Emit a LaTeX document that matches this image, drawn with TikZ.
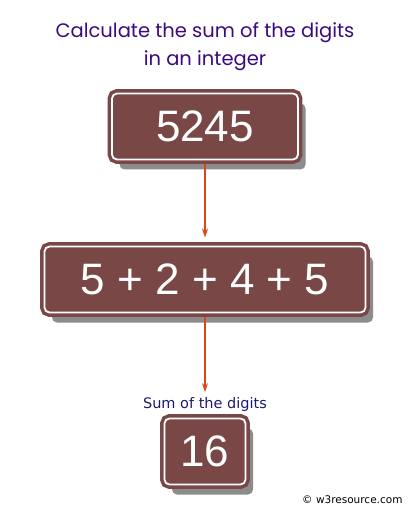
\documentclass[tikz,border=0pt]{standalone}
\usepackage{fontspec}
\setmainfont{Liberation Sans}
\newfontfamily\titlefont{Poppins}
\newfontfamily\labelfont{DejaVu Sans}
\usepackage{xcolor}
\usepackage{tikz}
\usetikzlibrary{positioning,shadows,arrows.meta}

\definecolor{boxbrown}{HTML}{7A4747}
\definecolor{titlepurple}{HTML}{3B0A7E}
\definecolor{sumnavy}{HTML}{1A1A72}
\definecolor{arrowred}{HTML}{D9461A}

\begin{document}
\begin{tikzpicture}[
  x=1pt, y=-1pt,
  node distance=87pt,
  digitbox/.style={rectangle, rounded corners=5pt, fill=boxbrown, draw=boxbrown,
            line width=3.5pt, double=white, double distance=1.8pt,
            minimum height=66pt, inner sep=0pt, outer sep=0pt, text=white,
            font=\fontsize{44}{48}\selectfont,
            drop shadow={shadow xshift=7.5pt, shadow yshift=-10pt, fill=black!75, opacity=.6}},
  every edge/.style={  % orange arrows between the boxes
            draw=arrowred,
           -{Stealth[length=9pt,width=6pt]},
           line width=1.3pt}
]
  \useasboundingbox (0,0) rectangle (410,510);
  \node[align=center, text=titlepurple, font=\titlefont\fontsize{19.5}{28}\selectfont] (title) at (205,47) {Calculate the sum of the digits\\in an integer};
  \node[digitbox, minimum width=186pt] (number) at (205,126.5) {5245};
  \node[digitbox, minimum width=321pt] (digits) [below=of number] {5 + 2 + 4 + 5};
  \node[digitbox, minimum width=81pt] (total) [below=106pt of digits] {16};
  \node[inner sep=0pt, text=sumnavy, font=\labelfont\fontsize{14.5}{16}\selectfont] (sumlabel) [above=7pt of total] {Sum of the digits};
  \node[font=\labelfont\fontsize{10.5}{12}\selectfont, anchor=east] (credit) at (406,500) {© w3resource.com};
  \draw (number) edge [shorten <=4.4pt, shorten >=9pt] (digits);
  \draw (digits) edge [shorten <=4.4pt, shorten >=5pt] (sumlabel);
\end{tikzpicture}
\end{document}
